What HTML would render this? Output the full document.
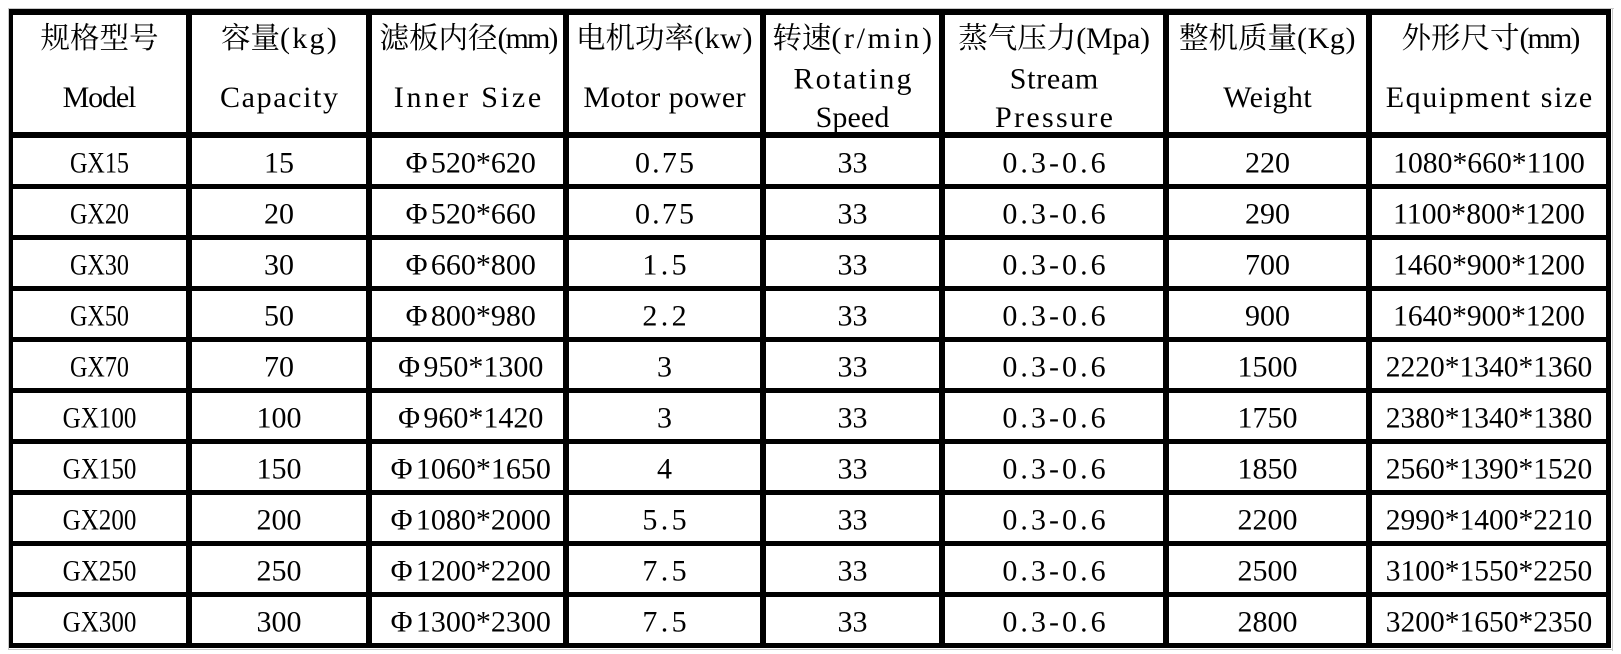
<!DOCTYPE html>
<html>
<head>
<meta charset="utf-8">
<style>
  html,body{margin:0;padding:0;background:#fff;}
  body{width:1621px;height:654px;overflow:hidden;}
  svg{display:block;}
  .s{font-family:"Liberation Serif","DejaVu Serif",serif;font-size:30px;fill:#000;}
  .c{font-family:"Noto Serif CJK SC","Noto Sans CJK SC",serif;font-size:29.5px;}
</style>
</head>
<body>
<svg width="1621" height="654" viewBox="0 0 1621 654" xmlns="http://www.w3.org/2000/svg">
  <rect x="0" y="0" width="1621" height="654" fill="#fff"/>
  <g fill="#c8c8c8">
    <rect x="8" y="8" width="1606" height="1"/>
    <rect x="1612" y="8" width="1" height="643"/>
    <rect x="8" y="649" width="1605" height="1"/>
    <rect x="8" y="8" width="1" height="642"/>
  </g>
  <g fill="#000">
    <rect x="9" y="9" width="4" height="639"/>
    <rect x="186" y="9" width="6" height="639"/>
    <rect x="366" y="9" width="6" height="639"/>
    <rect x="563" y="9" width="6" height="639"/>
    <rect x="760" y="9" width="6" height="639"/>
    <rect x="939" y="9" width="6" height="639"/>
    <rect x="1163" y="9" width="6" height="639"/>
    <rect x="1366" y="9" width="6" height="639"/>
    <rect x="1606" y="9" width="5" height="639"/>
    <rect x="9" y="9" width="1602" height="6"/>
    <rect x="9" y="132" width="1602" height="6"/>
    <rect x="9" y="184" width="1602" height="5"/>
    <rect x="9" y="235" width="1602" height="5"/>
    <rect x="9" y="286" width="1602" height="5"/>
    <rect x="9" y="337" width="1602" height="5"/>
    <rect x="9" y="388" width="1602" height="5"/>
    <rect x="9" y="439" width="1602" height="5"/>
    <rect x="9" y="490" width="1602" height="5"/>
    <rect x="9" y="541" width="1602" height="5"/>
    <rect x="9" y="592" width="1602" height="5"/>
    <rect x="9" y="643" width="1602" height="5"/>
  </g>

  <!-- header -->
  <g class="s" text-anchor="middle">
    <text x="99.5" y="48"><tspan class="c">规格型号</tspan></text>
    <text x="99.5" y="107" textLength="73.75" lengthAdjust="spacing">Model</text>

    <text x="280" y="48"><tspan class="c">容量</tspan><tspan letter-spacing="2.25">(kg)</tspan></text>
    <text x="279" y="107" textLength="118" lengthAdjust="spacing">Capacity</text>

    <text x="468" y="48"><tspan class="c">滤板内径</tspan><tspan letter-spacing="-1.9">(mm)</tspan></text>
    <text x="467.5" y="107" textLength="147.5" lengthAdjust="spacing">Inner Size</text>

    <text x="664.5" y="48"><tspan class="c">电机功率</tspan><tspan letter-spacing="0.6">(kw)</tspan></text>
    <text x="664.5" y="107" textLength="162.25" lengthAdjust="spacing">Motor power</text>

    <text x="853.5" y="48"><tspan class="c">转速</tspan><tspan letter-spacing="2.6">(r/min)</tspan></text>
    <text x="852.5" y="88.5" textLength="118" lengthAdjust="spacing">Rotating</text>
    <text x="852.5" y="127" textLength="73.75" lengthAdjust="spacing">Speed</text>

    <text x="1054" y="48"><tspan class="c">蒸气压力</tspan><tspan letter-spacing="-0.3">(Mpa)</tspan></text>
    <text x="1054" y="88.5" textLength="88.5" lengthAdjust="spacing">Stream</text>
    <text x="1054" y="127" textLength="118" lengthAdjust="spacing">Pressure</text>

    <text x="1267.5" y="48"><tspan class="c">整机质量</tspan><tspan letter-spacing="0.6">(Kg)</tspan></text>
    <text x="1267.5" y="107" textLength="88.5" lengthAdjust="spacing">Weight</text>

    <text x="1490" y="48"><tspan class="c">外形尺寸</tspan><tspan letter-spacing="-1.9">(mm)</tspan></text>
    <text x="1489" y="107" textLength="206.5" lengthAdjust="spacing">Equipment size</text>
  </g>

  <!-- data rows -->
  <g class="s" text-anchor="middle">
    <text x="99.5" y="172.5" textLength="59" lengthAdjust="spacingAndGlyphs">GX15</text>
    <text x="279" y="172.5">15</text>
    <text x="467.5" y="172.5"><tspan dx="3.3">Φ</tspan><tspan dx="3.3">520*620</tspan></text>
    <text x="664.5" y="172.5" textLength="59" lengthAdjust="spacing">0.75</text>
    <text x="852.5" y="172.5">33</text>
    <text x="1054" y="172.5" textLength="103.25" lengthAdjust="spacing">0.3-0.6</text>
    <text x="1267.5" y="172.5">220</text>
    <text x="1489" y="172.5" textLength="191.75" lengthAdjust="spacingAndGlyphs">1080*660*1100</text>

    <text x="99.5" y="223.5" textLength="59" lengthAdjust="spacingAndGlyphs">GX20</text>
    <text x="279" y="223.5">20</text>
    <text x="467.5" y="223.5"><tspan dx="3.3">Φ</tspan><tspan dx="3.3">520*660</tspan></text>
    <text x="664.5" y="223.5" textLength="59" lengthAdjust="spacing">0.75</text>
    <text x="852.5" y="223.5">33</text>
    <text x="1054" y="223.5" textLength="103.25" lengthAdjust="spacing">0.3-0.6</text>
    <text x="1267.5" y="223.5">290</text>
    <text x="1489" y="223.5" textLength="191.75" lengthAdjust="spacingAndGlyphs">1100*800*1200</text>

    <text x="99.5" y="274.5" textLength="59" lengthAdjust="spacingAndGlyphs">GX30</text>
    <text x="279" y="274.5">30</text>
    <text x="467.5" y="274.5"><tspan dx="3.3">Φ</tspan><tspan dx="3.3">660*800</tspan></text>
    <text x="664.5" y="274.5" textLength="44.25" lengthAdjust="spacing">1.5</text>
    <text x="852.5" y="274.5">33</text>
    <text x="1054" y="274.5" textLength="103.25" lengthAdjust="spacing">0.3-0.6</text>
    <text x="1267.5" y="274.5">700</text>
    <text x="1489" y="274.5" textLength="191.75" lengthAdjust="spacingAndGlyphs">1460*900*1200</text>

    <text x="99.5" y="325.5" textLength="59" lengthAdjust="spacingAndGlyphs">GX50</text>
    <text x="279" y="325.5">50</text>
    <text x="467.5" y="325.5"><tspan dx="3.3">Φ</tspan><tspan dx="3.3">800*980</tspan></text>
    <text x="664.5" y="325.5" textLength="44.25" lengthAdjust="spacing">2.2</text>
    <text x="852.5" y="325.5">33</text>
    <text x="1054" y="325.5" textLength="103.25" lengthAdjust="spacing">0.3-0.6</text>
    <text x="1267.5" y="325.5">900</text>
    <text x="1489" y="325.5" textLength="191.75" lengthAdjust="spacingAndGlyphs">1640*900*1200</text>

    <text x="99.5" y="376.5" textLength="59" lengthAdjust="spacingAndGlyphs">GX70</text>
    <text x="279" y="376.5">70</text>
    <text x="467.5" y="376.5"><tspan dx="3.3">Φ</tspan><tspan dx="3.3">950*1300</tspan></text>
    <text x="664.5" y="376.5">3</text>
    <text x="852.5" y="376.5">33</text>
    <text x="1054" y="376.5" textLength="103.25" lengthAdjust="spacing">0.3-0.6</text>
    <text x="1267.5" y="376.5">1500</text>
    <text x="1489" y="376.5" textLength="206.5" lengthAdjust="spacingAndGlyphs">2220*1340*1360</text>

    <text x="99.5" y="427.5" textLength="73.75" lengthAdjust="spacingAndGlyphs">GX100</text>
    <text x="279" y="427.5">100</text>
    <text x="467.5" y="427.5"><tspan dx="3.3">Φ</tspan><tspan dx="3.3">960*1420</tspan></text>
    <text x="664.5" y="427.5">3</text>
    <text x="852.5" y="427.5">33</text>
    <text x="1054" y="427.5" textLength="103.25" lengthAdjust="spacing">0.3-0.6</text>
    <text x="1267.5" y="427.5">1750</text>
    <text x="1489" y="427.5" textLength="206.5" lengthAdjust="spacingAndGlyphs">2380*1340*1380</text>

    <text x="99.5" y="478.5" textLength="73.75" lengthAdjust="spacingAndGlyphs">GX150</text>
    <text x="279" y="478.5">150</text>
    <text x="467.5" y="478.5"><tspan dx="3.3">Φ</tspan><tspan dx="3.3">1060*1650</tspan></text>
    <text x="664.5" y="478.5">4</text>
    <text x="852.5" y="478.5">33</text>
    <text x="1054" y="478.5" textLength="103.25" lengthAdjust="spacing">0.3-0.6</text>
    <text x="1267.5" y="478.5">1850</text>
    <text x="1489" y="478.5" textLength="206.5" lengthAdjust="spacingAndGlyphs">2560*1390*1520</text>

    <text x="99.5" y="529.5" textLength="73.75" lengthAdjust="spacingAndGlyphs">GX200</text>
    <text x="279" y="529.5">200</text>
    <text x="467.5" y="529.5"><tspan dx="3.3">Φ</tspan><tspan dx="3.3">1080*2000</tspan></text>
    <text x="664.5" y="529.5" textLength="44.25" lengthAdjust="spacing">5.5</text>
    <text x="852.5" y="529.5">33</text>
    <text x="1054" y="529.5" textLength="103.25" lengthAdjust="spacing">0.3-0.6</text>
    <text x="1267.5" y="529.5">2200</text>
    <text x="1489" y="529.5" textLength="206.5" lengthAdjust="spacingAndGlyphs">2990*1400*2210</text>

    <text x="99.5" y="580.5" textLength="73.75" lengthAdjust="spacingAndGlyphs">GX250</text>
    <text x="279" y="580.5">250</text>
    <text x="467.5" y="580.5"><tspan dx="3.3">Φ</tspan><tspan dx="3.3">1200*2200</tspan></text>
    <text x="664.5" y="580.5" textLength="44.25" lengthAdjust="spacing">7.5</text>
    <text x="852.5" y="580.5">33</text>
    <text x="1054" y="580.5" textLength="103.25" lengthAdjust="spacing">0.3-0.6</text>
    <text x="1267.5" y="580.5">2500</text>
    <text x="1489" y="580.5" textLength="206.5" lengthAdjust="spacingAndGlyphs">3100*1550*2250</text>

    <text x="99.5" y="631.5" textLength="73.75" lengthAdjust="spacingAndGlyphs">GX300</text>
    <text x="279" y="631.5">300</text>
    <text x="467.5" y="631.5"><tspan dx="3.3">Φ</tspan><tspan dx="3.3">1300*2300</tspan></text>
    <text x="664.5" y="631.5" textLength="44.25" lengthAdjust="spacing">7.5</text>
    <text x="852.5" y="631.5">33</text>
    <text x="1054" y="631.5" textLength="103.25" lengthAdjust="spacing">0.3-0.6</text>
    <text x="1267.5" y="631.5">2800</text>
    <text x="1489" y="631.5" textLength="206.5" lengthAdjust="spacingAndGlyphs">3200*1650*2350</text>
  </g>
</svg>
</body>
</html>
